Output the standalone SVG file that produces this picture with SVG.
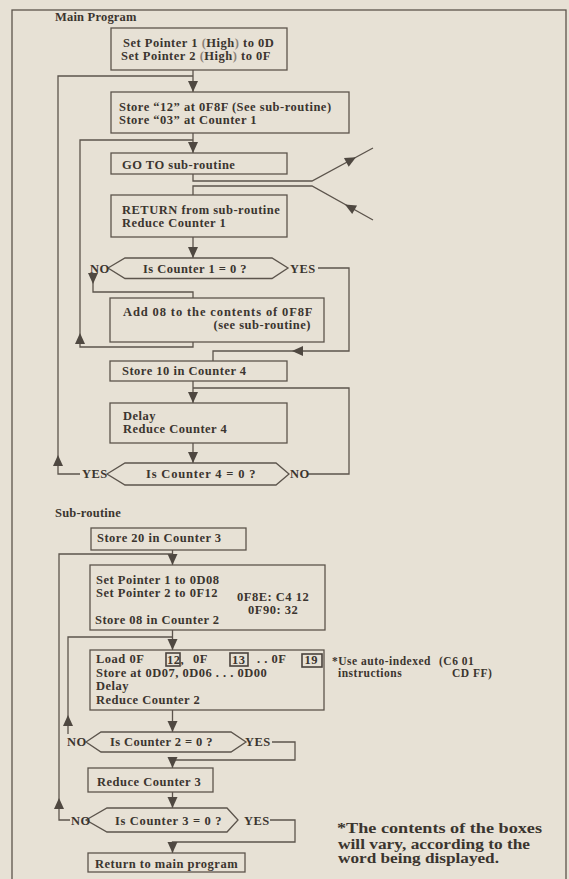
<svg xmlns="http://www.w3.org/2000/svg" xmlns:xlink="http://www.w3.org/1999/xlink" width="569" height="879" viewBox="0 0 569 879">
<style>
.bg{fill:#e7e1d5}
.bx{fill:none;stroke:#5c544c;stroke-width:1.3}
.nb{fill:none;stroke:#4a433c;stroke-width:1.6}
.ln{fill:none;stroke:#5c544c;stroke-width:1.3}
.ah{fill:#4f4841}
text{font-family:"Liberation Serif","Times New Roman",serif;font-weight:bold;fill:#3b352f;font-size:12.5px;letter-spacing:0.5px}
.hd{letter-spacing:0.2px}
.sm{font-size:11.5px;letter-spacing:0.5px}
.fn{font-size:14.5px;letter-spacing:0}
.pa{fill:#8a8178}
</style>
<defs>
<path id="ah" class="ah" d="M0,0 L-5,-11 L5,-11 Z"/>
</defs>
<rect class="bg" x="0" y="0" width="569" height="879"/>
<rect class="bx" x="12" y="10" width="554" height="885"/>

<g id="labels">
<text class="hd" x="55" y="21">Main Program</text>
<text class="hd" x="55" y="517">Sub-routine</text>
</g>

<g id="connectors">
<path class="ln" d="M193,70 V92"/>
<use xlink:href="#ah" x="193" y="92"/>
<path class="ln" d="M80,474 H58 V76 H193"/>
<use xlink:href="#ah" transform="translate(58,455) rotate(180)"/>
<path class="ln" d="M193,133 V153"/>
<use xlink:href="#ah" x="193" y="153"/>
<path class="ln" d="M193,342 V347 H80 V140 H193"/>
<use xlink:href="#ah" transform="translate(80,333) rotate(180)"/>
<path class="ln" d="M193,174 V181 H312 L373,148"/>
<use xlink:href="#ah" transform="translate(356,157.2) rotate(-118.4)"/>
<path class="ln" d="M373,220 L312,186 H193 V195"/>
<use xlink:href="#ah" transform="translate(345,204.4) rotate(119.1)"/>
<path class="ln" d="M193,237 V258"/>
<use xlink:href="#ah" x="193" y="258"/>
<path class="ln" d="M93,277 V292 H193 V298"/>
<use xlink:href="#ah" x="93" y="284"/>
<path class="ln" d="M318,268 H349 V351 H213 V361"/>
<use xlink:href="#ah" transform="translate(292,351) rotate(90)"/>
<path class="ln" d="M193,381 V403"/>
<use xlink:href="#ah" x="193" y="403"/>
<path class="ln" d="M308,474 H349 V388 H193"/>
<path class="ln" d="M193,443 V463"/>
<use xlink:href="#ah" x="193" y="463"/>

<path class="ln" d="M172.5,550 V565"/>
<use xlink:href="#ah" x="172.5" y="565"/>
<path class="ln" d="M70,820 H59 V554 H172.5"/>
<use xlink:href="#ah" transform="translate(59,798) rotate(180)"/>
<path class="ln" d="M172.5,630 V650"/>
<use xlink:href="#ah" x="172.5" y="650"/>
<path class="ln" d="M68,734 V637 H172.5"/>
<use xlink:href="#ah" transform="translate(68,715) rotate(180)"/>
<path class="ln" d="M172.5,710 V732"/>
<use xlink:href="#ah" x="172.5" y="732"/>
<path class="ln" d="M272,742 H295 V760 H172.5 V768"/>
<use xlink:href="#ah" x="172.5" y="768"/>
<path class="ln" d="M172.5,792 V808"/>
<use xlink:href="#ah" x="172.5" y="808"/>
<path class="ln" d="M270,820 H295 V842 H172.5 V853"/>
<use xlink:href="#ah" x="172.5" y="853"/>
</g>

<g id="n1">
<rect class="bx" x="111" y="28" width="176" height="42"/>
<text x="123" y="46.5">Set Pointer 1 <tspan class="pa">(</tspan>High<tspan class="pa">)</tspan> to 0D</text>
<text x="121" y="59.5">Set Pointer 2 <tspan class="pa">(</tspan>High<tspan class="pa">)</tspan> to 0F</text>
</g>
<g id="n2">
<rect class="bx" x="111" y="92" width="238" height="41"/>
<text x="119" y="111">Store “12” at 0F8F (See sub-routine)</text>
<text x="119" y="123.5">Store “03” at Counter 1</text>
</g>
<g id="n3">
<rect class="bx" x="111" y="153" width="176" height="21"/>
<text x="122" y="168.5">GO TO sub-routine</text>
</g>
<g id="n4">
<rect class="bx" x="111" y="195" width="176" height="42"/>
<text x="122" y="214">RETURN from sub-routine</text>
<text x="122" y="226.5">Reduce Counter 1</text>
</g>
<g id="d1">
<polygon class="bx" points="108,268 125,258 272,258 288,268 272,278.5 125,278.5"/>
<text x="143" y="272.5" textLength="104">Is Counter 1 = 0 ?</text>
<text x="90" y="272.5">NO</text>
<text x="290" y="272.5">YES</text>
</g>
<g id="n5">
<rect class="bx" x="110" y="298" width="214" height="44"/>
<text x="123" y="316" textLength="190">Add 08 to the contents of 0F8F</text>
<text x="311" y="329" text-anchor="end">(see sub-routine)</text>
</g>
<g id="n6">
<rect class="bx" x="110" y="361" width="177" height="20"/>
<text x="122" y="374.5">Store 10 in Counter 4</text>
</g>
<g id="n7">
<rect class="bx" x="110" y="403" width="177" height="40"/>
<text x="123" y="419.5">Delay</text>
<text x="123" y="432.5">Reduce Counter 4</text>
</g>
<g id="d4">
<polygon class="bx" points="107,474 125,463 276,463 289,474 276,485 125,485"/>
<text x="146" y="478" textLength="110">Is Counter 4 = 0 ?</text>
<text x="82" y="478">YES</text>
<text x="290" y="478">NO</text>
</g>

<g id="s1">
<rect class="bx" x="91" y="528" width="155" height="22"/>
<text x="97" y="541.5">Store 20 in Counter 3</text>
</g>
<g id="s2">
<rect class="bx" x="90" y="565" width="235" height="65"/>
<text x="96" y="584">Set Pointer 1 to 0D08</text>
<text x="96" y="597">Set Pointer 2 to 0F12</text>
<text x="237" y="600.5">0F8E: C4 12</text>
<text x="248" y="614">0F90: 32</text>
<text x="95" y="624">Store 08 in Counter 2</text>
</g>
<g id="s3">
<rect class="bx" x="90" y="650" width="234" height="60"/>
<text x="96" y="663">Load 0F</text>
<rect class="nb" x="166" y="653" width="14" height="13"/>
<text x="167" y="663.5" letter-spacing="0">12,</text>
<text x="193" y="663">0F</text>
<rect class="nb" x="230" y="653" width="18" height="13"/>
<text x="232" y="663.5">13</text>
<text x="257" y="663">. .  0F</text>
<rect class="nb" x="302" y="654" width="20" height="13"/>
<text x="304.5" y="664">19</text>
<text x="96" y="676.5">Store at 0D07, 0D06 . . . 0D00</text>
<text x="96" y="690">Delay</text>
<text x="96" y="703.5">Reduce Counter 2</text>
</g>
<g id="note1">
<text class="sm" x="332" y="664.5">*Use auto-indexed</text>
<text class="sm" x="439" y="664.5">(C6 01</text>
<text class="sm" x="338" y="677">instructions</text>
<text class="sm" x="452" y="677">CD FF)</text>
</g>
<g id="s4">
<polygon class="bx" points="86,742 101,732 231,732 246,742 231,752 101,752"/>
<text x="110" y="746" textLength="103">Is Counter 2 = 0 ?</text>
<text x="67" y="746">NO</text>
<text x="245" y="746">YES</text>
</g>
<g id="s5">
<rect class="bx" x="88" y="768" width="125" height="24"/>
<text x="97" y="785.5">Reduce Counter 3</text>
</g>
<g id="s6">
<polygon class="bx" points="86,820 107,808 227,808 238,820 227,832 107,832"/>
<text x="115" y="825" textLength="107">Is Counter 3 = 0 ?</text>
<text x="71" y="825">NO</text>
<text x="244" y="825">YES</text>
</g>
<g id="s7">
<rect class="bx" x="88" y="853" width="157" height="19"/>
<text x="95" y="867.5">Return to main program</text>
</g>
<g id="footnote">
<text class="fn" x="337" y="833" textLength="205" lengthAdjust="spacingAndGlyphs">*The contents of the boxes</text>
<text class="fn" x="338" y="848.5" textLength="192" lengthAdjust="spacingAndGlyphs">will vary, according to the</text>
<text class="fn" x="338" y="863" textLength="161" lengthAdjust="spacingAndGlyphs">word being displayed.</text>
</g>
</svg>
